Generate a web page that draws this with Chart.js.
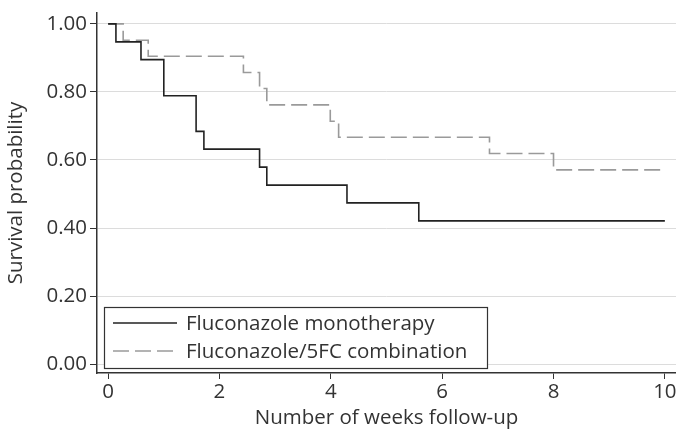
<!DOCTYPE html>
<html>
<head>
<meta charset="utf-8">
<script src="https://cdn.jsdelivr.net/npm/chart.js@4.4.1/dist/chart.umd.min.js"></script>
<style>
  html, body { margin: 0; padding: 0; background: #fff; }
  #wrap { width: 676px; height: 432px; }
</style>
</head>
<body>
<div id="wrap"><canvas id="km" width="676" height="432"></canvas></div>
<script>
// Kaplan-Meier: tiempos (semanas) y supervivencia por grupo
const monoTimes = [0, 0.14, 0.59, 1.00, 1.58, 1.72, 2.72, 2.85, 4.29, 5.58, 10];
const monoSurv  = [1.00, 0.947, 0.895, 0.789, 0.684, 0.632, 0.579, 0.526, 0.474, 0.421, 0.421];

const comboTimes = [0, 0.27, 0.72, 2.43, 2.72, 2.85, 3.99, 4.14, 6.85, 8.00, 10];
const comboSurv  = [1.00, 0.952, 0.905, 0.857, 0.810, 0.762, 0.714, 0.667, 0.619, 0.571, 0.571];

const seriesLabels = ["Fluconazole monotherapy", "Fluconazole/5FC combination"];
const xTicks = [0, 2, 4, 6, 8, 10];
const yTicks = [0, 0.2, 0.4, 0.6, 0.8, 1.0];

const FONT = "'Open Sans', 'Noto Sans', sans-serif";
const FSIZE = 20.5;
const TXT = "#333";

function toPoints(xs, ys) {
  return xs.map((x, i) => ({ x: x, y: ys[i] }));
}

// Leyenda dibujada dentro del área del gráfico (abajo a la izquierda)
const legendInside = {
  id: "legendInside",
  afterDraw(chart) {
    const ctx = chart.ctx;
    const left = chart.chartArea.left + 7;
    const top = 307, w = 383, h = 61;
    ctx.save();
    ctx.fillStyle = "#fff";
    ctx.fillRect(left, top, w, h);
    ctx.strokeStyle = "#333";
    ctx.lineWidth = 1.2;
    ctx.strokeRect(left + 0.5, top + 0.5, w, h);
    ctx.font = FSIZE + "px " + FONT;
    ctx.textBaseline = "middle";
    chart.data.datasets.forEach((ds, i) => {
      const cy = top + 16 + i * 28;
      ctx.beginPath();
      ctx.setLineDash(ds.borderDash || []);
      ctx.strokeStyle = ds.borderColor;
      ctx.lineWidth = ds.borderWidth;
      ctx.moveTo(left + 9, cy);
      ctx.lineTo(left + 73, cy);
      ctx.stroke();
      ctx.setLineDash([]);
      ctx.fillStyle = TXT;
      ctx.fillText(ds.label, left + 82, cy + 1);
    });
    ctx.restore();
  }
};

new Chart(document.getElementById("km"), {
  type: "line",
  data: {
    datasets: [
      {
        label: seriesLabels[0],
        data: toPoints(monoTimes, monoSurv),
        borderColor: "#222",
        borderWidth: 1.6,
        stepped: "before",
        pointRadius: 0,
        fill: false
      },
      {
        label: seriesLabels[1],
        data: toPoints(comboTimes, comboSurv),
        borderColor: "#9a9a9a",
        borderWidth: 1.6,
        borderDash: [16, 6],
        stepped: "before",
        pointRadius: 0,
        fill: false
      }
    ]
  },
  options: {
    responsive: false,
    animation: false,
    layout: { padding: { top: 13, right: 0, left: 0, bottom: 0 } },
    plugins: {
      legend: { display: false },
      tooltip: { enabled: false }
    },
    scales: {
      x: {
        type: "linear",
        min: -0.2,
        max: 10.2,
        afterBuildTicks: (s) => { s.ticks = xTicks.map(v => ({ value: v })); },
        afterFit: (s) => { s.height = 59; s.paddingLeft = 0; s.paddingRight = 0; },
        border: { color: "#333", width: 1.5 },
        grid: { drawOnChartArea: false, drawTicks: true, tickLength: 6, tickColor: "#333" },
        ticks: { color: TXT, font: { family: FONT, size: FSIZE }, padding: 1, maxRotation: 0 },
        title: { display: true, text: "Number of weeks follow-up", color: TXT, font: { family: FONT, size: FSIZE }, padding: { top: 0, bottom: 2 } }
      },
      y: {
        type: "linear",
        min: -0.026,
        max: 1.032,
        afterBuildTicks: (s) => { s.ticks = yTicks.map(v => ({ value: v })); },
        afterFit: (s) => { s.width = 97; s.paddingTop = 0; s.paddingBottom = 0; },
        border: { color: "#333", width: 1.5 },
        grid: { color: "#dcdcdc", lineWidth: 1, drawTicks: true, tickLength: 7, tickColor: "#333" },
        ticks: { color: TXT, font: { family: FONT, size: FSIZE }, padding: 3, callback: (v) => v.toFixed(2) },
        title: { display: true, text: "Survival probability", color: TXT, font: { family: FONT, size: FSIZE }, padding: { top: 4, bottom: 0 } }
      }
    }
  },
  plugins: [legendInside]
});
</script>
</body>
</html>
